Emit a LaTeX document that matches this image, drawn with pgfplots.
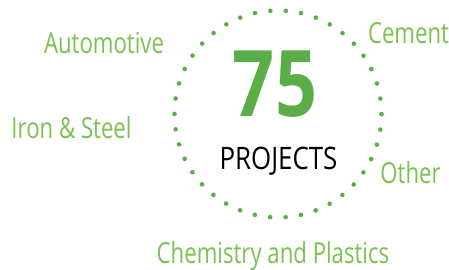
\documentclass[border=0pt]{standalone}
\usepackage{pgfplots}
\pgfplotsset{compat=1.18}
\usepackage{fontspec}
\setmainfont{Open Sans}
\newfontfamily\labfont[FakeStretch=0.765]{Open Sans}
\newfontfamily\projfont[FakeStretch=0.835]{Open Sans}
\newfontfamily\numfont[FakeStretch=0.80]{Open Sans}
\definecolor{labgreen}{HTML}{7AC251}
\definecolor{dotgreen}{HTML}{5BAD48}
\begin{document}
\begin{tikzpicture}
\begin{axis}[
  scale only axis, width=449bp, height=270bp,
  xmin=0, xmax=449, ymin=0, ymax=270, y dir=reverse,
  hide axis, clip=false,
]
% total count of projects
\addplot[draw=none, mark=none, nodes near coords={\numfont\bfseries\fontsize{92bp}{92bp}\selectfont 75},
  nodes near coords style={anchor=base, text=dotgreen, inner sep=0pt}]
  coordinates {(275,116)};
\draw[dotgreen, line width=4.6bp, line cap=round, dash pattern=on 0pt off 15.48bp]
  (axis cs:278,114) circle [radius=103.5bp];
\node[anchor=base, inner sep=0pt, text=black] at (axis cs:278.5,169)
  {\projfont\fontsize{31bp}{31bp}\selectfont PROJECTS};
\node[anchor=base, inner sep=0pt, text=labgreen] at (axis cs:104,53)
  {\labfont\fontsize{29bp}{29bp}\selectfont Automotive};
\node[anchor=base, inner sep=0pt, text=labgreen] at (axis cs:408.5,43)
  {\labfont\fontsize{29bp}{29bp}\selectfont Cement};
\node[anchor=base, inner sep=0pt, text=labgreen] at (axis cs:71.5,138)
  {\labfont\fontsize{29bp}{29bp}\selectfont Iron \& Steel};
\node[anchor=base, inner sep=0pt, text=labgreen] at (axis cs:410.5,183)
  {\labfont\fontsize{29bp}{29bp}\selectfont Other};
\node[anchor=base, inner sep=0pt, text=labgreen] at (axis cs:273,263)
  {\labfont\fontsize{29bp}{29bp}\selectfont Chemistry and Plastics};
\end{axis}
\pgfresetboundingbox
\path[use as bounding box] (current axis.south west) rectangle (current axis.north east);
\end{tikzpicture}
\end{document}
